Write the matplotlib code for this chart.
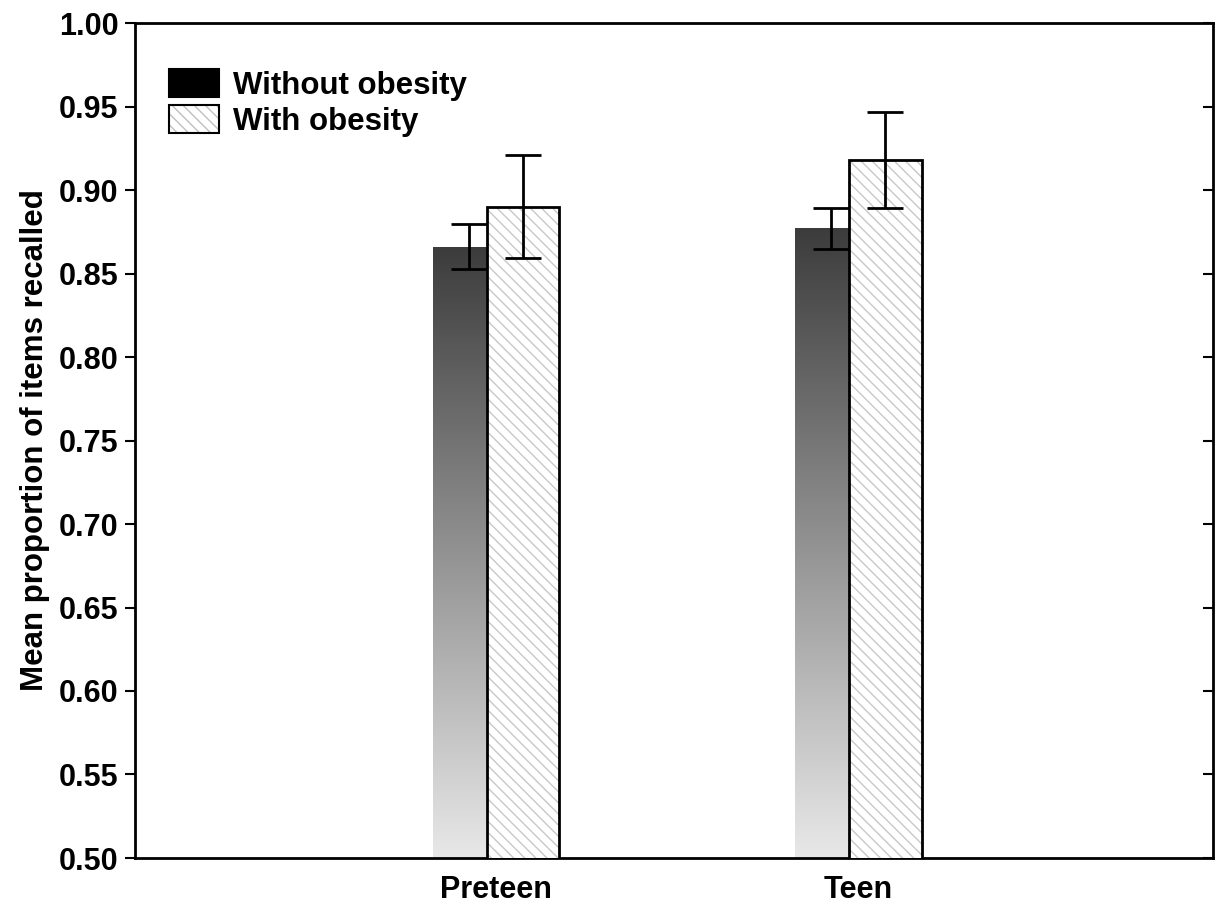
import numpy as np
import matplotlib.pyplot as plt
from matplotlib.patches import Patch

plt.rcParams['font.family'] = ['Liberation Sans', 'DejaVu Sans']
plt.rcParams['font.weight'] = 'bold'

groups = ["Preteen", "Teen"]
without_mean = [0.866, 0.877]
without_err = [0.0135, 0.0123]
with_mean = [0.890, 0.918]
with_err = [0.031, 0.029]

x = np.arange(len(groups))
w = 0.2
off = 0.075

fig = plt.figure(figsize=(12.25, 9.08), dpi=100)
ax = fig.add_axes([135/1225, 1 - 858/908, (1213-135)/1225, (858-23)/908])

# gradient bars (dark at top, light at bottom)
grad = np.linspace(0, 1, 256).reshape(-1, 1)
cmap = plt.matplotlib.colors.LinearSegmentedColormap.from_list("g", ["#e8e8e8", "#3c3c3c"])
bars1 = ax.bar(x - off, without_mean, w, bottom=0, color="none", linewidth=0, zorder=2)
for b in bars1:
    x0, x1 = b.get_x(), b.get_x() + b.get_width()
    im = ax.imshow(grad, extent=[x0, x1, 0.5, b.get_height()], origin="lower",
                   aspect="auto", cmap=cmap, zorder=2)
    im.set_clip_path(b)
ax.errorbar(x - off, without_mean, yerr=without_err, fmt="none", ecolor="black",
            elinewidth=2, capsize=13, capthick=2, zorder=3)

# hatched bars
ax.bar(x + off, with_mean, w, color="white", edgecolor="#c8c8c8", hatch="\\\\\\",
       linewidth=0, zorder=4)
ax.bar(x + off, with_mean, w, fill=False, edgecolor="black", linewidth=2, zorder=5)
ax.errorbar(x + off, with_mean, yerr=with_err, fmt="none", ecolor="black",
            elinewidth=2, capsize=13, capthick=2, zorder=6)
ax.set_xlim(-0.997, 1.98)
ax.set_ylim(0.5, 1.0)

ax.set_yticks(np.arange(0.5, 1.001, 0.05))
ax.set_yticklabels([f"{v:.2f}" for v in np.arange(0.5, 1.001, 0.05)])
ax.set_xticks(x)
ax.set_xticklabels(groups)
ax.tick_params(axis="y", direction="out", length=7, width=1.5, labelsize=22, pad=5,
               right=True)
ax.tick_params(axis="x", direction="in", length=5, width=1.5, labelsize=22, pad=12)
for t in ax.yaxis.get_ticklines()[1::2]:
    t.set_marker(0)  # right ticks point inward
    t.set_markersize(7)
for s in ax.spines.values():
    s.set_linewidth(2)

ax.set_ylabel("Mean proportion of items recalled", fontsize=22.5, fontweight="bold", labelpad=6)

h_black = Patch(facecolor="black", edgecolor="black", linewidth=1.5)
h_hatch = Patch(facecolor="white", edgecolor="#c0c0c0", hatch="\\\\\\", linewidth=0)
h_edge = Patch(fill=False, edgecolor="black", linewidth=1.5)
leg = ax.legend([h_black, (h_hatch, h_edge)], ["Without obesity", "With obesity"],
                loc="upper left", bbox_to_anchor=(0.005, 0.978), frameon=False,
                fontsize=22.5, handlelength=1.6, handleheight=1.0,
                handletextpad=0.45, labelspacing=0.13)

fig.savefig("out.png", dpi=100)
